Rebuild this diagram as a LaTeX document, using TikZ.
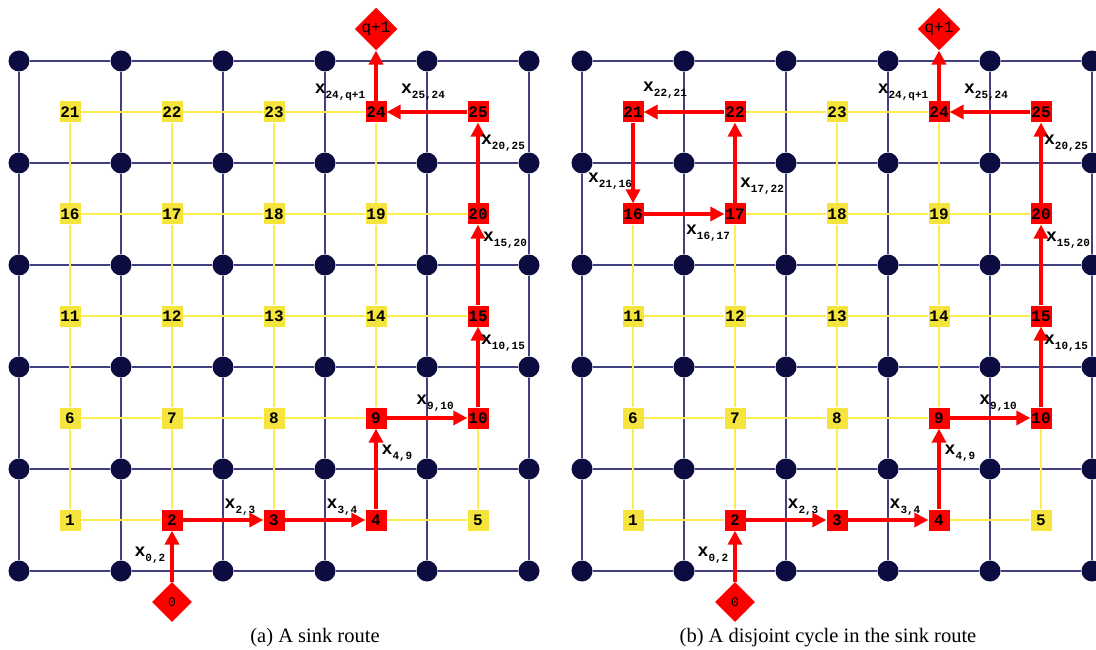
\documentclass[tikz,border=0pt]{standalone}
\usepackage{fontspec}
\setmainfont{Liberation Serif}
\newfontfamily\cellfont{Liberation Mono}
\usetikzlibrary{shapes.geometric,arrows.meta}
\definecolor{navy}{RGB}{12,12,64}
\definecolor{gridblue}{RGB}{64,64,128}
\definecolor{cellyellow}{RGB}{245,228,60}
\definecolor{linkyellow}{RGB}{252,238,80}
\definecolor{routered}{RGB}{255,0,0}
\def\reda{{0,0,1,1,1,0,0,0,0,1,1,0,0,0,0,1,0,0,0,0,1,0,0,0,1,1}}
\def\redb{{0,0,1,1,1,0,0,0,0,1,1,0,0,0,0,1,1,1,0,0,1,1,1,0,1,1}}
\newcommand{\xsub}[1]{x\raisebox{-5pt}{\fontsize{11}{11}\selectfont#1}}
\tikzset{
  dot/.style={circle,fill=navy,minimum size=21pt,inner sep=0pt},
  gridline/.style={gridblue,line width=2pt},
  cell/.style={rectangle,minimum size=21pt,inner sep=0pt,font=\cellfont\bfseries\fontsize{16}{16}\selectfont},
  link/.style={linkyellow,line width=1.5pt},
  term/.style={diamond,fill=routered,minimum size=40pt,inner sep=0pt,font=\cellfont\fontsize{16}{16}\selectfont},
  route/.style={routered,line width=4.5pt,-{Triangle[length=14pt,width=14pt]}},
  lab/.style={inner sep=0pt,font=\cellfont\bfseries\fontsize{18}{18}\selectfont},
  caption/.style={font=\fontsize{20.5}{20.5}\selectfont}
}
\begin{document}
\begin{tikzpicture}[x=1pt,y=-1pt]
\useasboundingbox (0,0) rectangle (1096,650);
\foreach \p/\o/\rl in {a/0/\reda,b/563/\redb}{
  \foreach \i in {0,...,5}
    \foreach \j in {0,...,5}
      \node[dot] (\p d\i\j) at (\o+19+102*\i,61+102*\j) {};
  \foreach \i in {0,...,5}
    \foreach \j [count=\k] in {0,...,4}{
      \draw[gridline] (\p d\j\i) -- (\p d\k\i);
      \draw[gridline] (\p d\i\j) -- (\p d\i\k);
    }
  \foreach \n in {1,...,25}{
    \pgfmathtruncatemacro\c{mod(\n-1,5)}
    \pgfmathtruncatemacro\r{div(\n-1,5)}
    \pgfmathtruncatemacro\f{\rl[\n]}
    \ifnum\f=1 \def\cf{routered}\else\def\cf{cellyellow}\fi
    \node[cell,fill=\cf] (\p\n) at (\o+70+102*\c,520-102*\r) {\n};
  }
  \foreach \n in {1,...,25}{
    \pgfmathtruncatemacro\c{mod(\n,5)}
    \pgfmathtruncatemacro\m{\n+1}
    \pgfmathtruncatemacro\u{\n+5}
    \ifnum\c>0 \draw[link] (\p\n) -- (\p\m);\fi
    \ifnum\n<21 \draw[link] (\p\n) -- (\p\u);\fi
  }
  \node[term] (\p 0) at (\o+172,602) {\fontsize{13}{13}\selectfont 0};
  \node[term] (\p q) at (\o+376,29) {q+1};
  \foreach \s/\t in {0/2,2/3,3/4,4/9,9/10,10/15,15/20,20/25,25/24,24/q}
    \draw[route] (\p\s) -- (\p\t);
  \foreach \s/\lx/\ly [count=\k] in {{0,2}/150/555,{2,3}/240/507,{3,4}/342/507,{4,9}/397/453,
      {9,10}/435/403,{10,15}/503/343,{15,20}/505/240,{20,25}/503/143,{25,24}/423/92,{24,q+1}/340/92}
    \node[lab] (\p l\k) at (\o+\lx,\ly) {\xsub{\s}};
}
\foreach \s/\t in {16/17,17/22,22/21,21/16}
  \draw[route] (b\s) -- (b\t);
\foreach \s/\lx/\ly [count=\k] in {{22,21}/665/90,{21,16}/610/181,{17,22}/762/186,{16,17}/708/233}
  \node[lab] (bc\k) at (\lx,\ly) {\xsub{\s}};
\node[caption] (capa) at (315,638) {(a) A sink route};
\node[caption] (capb) at (828,638) {(b) A disjoint cycle in the sink route};
\end{tikzpicture}
\end{document}
